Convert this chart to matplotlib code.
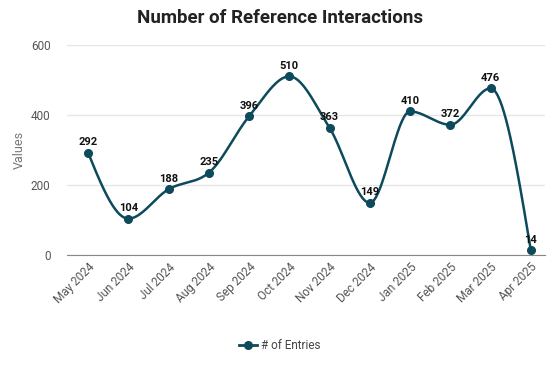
import numpy as np
import matplotlib.pyplot as plt

plt.rcParams['font.family'] = ['Roboto', 'DejaVu Sans']

months = ['May 2024', 'Jun 2024', 'Jul 2024', 'Aug 2024', 'Sep 2024', 'Oct 2024',
          'Nov 2024', 'Dec 2024', 'Jan 2025', 'Feb 2025', 'Mar 2025', 'Apr 2025']
entries = [292, 104, 188, 235, 396, 510, 363, 149, 410, 372, 476, 14]

color = '#0c4a5c'


def monotone_x(x, y, n=40):
    # monotone cubic curve through the points (like d3 curveMonotoneX)
    x = np.asarray(x, float)
    y = np.asarray(y, float)
    h = np.diff(x)
    s = np.diff(y) / h
    m = np.zeros(len(x))
    for i in range(1, len(x) - 1):
        p = (s[i - 1] * h[i] + s[i] * h[i - 1]) / (h[i - 1] + h[i])
        m[i] = (np.sign(s[i - 1]) + np.sign(s[i])) * min(abs(s[i - 1]), abs(s[i]), 0.5 * abs(p))
    m[0] = (3 * s[0] - m[1]) / 2
    m[-1] = (3 * s[-1] - m[-2]) / 2
    xs, ys = [], []
    for i in range(len(x) - 1):
        t = np.linspace(0, 1, n)
        h00 = 2 * t ** 3 - 3 * t ** 2 + 1
        h10 = t ** 3 - 2 * t ** 2 + t
        h01 = -2 * t ** 3 + 3 * t ** 2
        h11 = t ** 3 - t ** 2
        xs.append(x[i] + t * h[i])
        ys.append(h00 * y[i] + h10 * h[i] * m[i] + h01 * y[i + 1] + h11 * h[i] * m[i + 1])
    return np.concatenate(xs), np.concatenate(ys)


fig = plt.figure(figsize=(5.6, 3.74), dpi=100)
ax = fig.add_axes([0.12, 0.318, 0.853, 0.562])

xpos = np.arange(len(months))
sx, sy = monotone_x(xpos, entries)
ax.plot(sx, sy, color=color, lw=1.8, zorder=3)
ax.plot(xpos, entries, 'o', color=color, ms=5.5, zorder=4)

for x, v in zip(xpos, entries):
    ax.annotate(str(v), (x, v), xytext=(0, 4), textcoords='offset points',
                ha='center', va='bottom', fontsize=8, fontweight='bold', color='#111111')

ax.set_ylim(0, 600)
ax.set_yticks([0, 200, 400, 600])
ax.set_xlim(-0.52, 11.35)
ax.set_xticks(xpos)
ax.set_xticklabels(months, rotation=45, ha='right', rotation_mode='anchor')
ax.tick_params(axis='both', length=0, labelsize=8.5, labelcolor='#555555')
ax.tick_params(axis='y', pad=12)
ax.tick_params(axis='x', pad=4)
ax.grid(axis='y', color='#e6e6e6', lw=1)
ax.set_axisbelow(True)
for s in ['top', 'right', 'left']:
    ax.spines[s].set_visible(False)
ax.spines['bottom'].set_color('#888888')
ax.set_ylabel('Values', fontsize=9, color='#777777')

fig.suptitle('Number of Reference Interactions', x=0.5, y=0.975,
             fontsize=13.5, fontweight='bold', color='#222222')

handle, = ax.plot([], [], '-o', color=color, ms=5.5, lw=2)
fig.legend([handle], ['# of Entries'], loc='center', bbox_to_anchor=(0.5, 0.075),
           frameon=False, fontsize=8.5, labelcolor='#444444', handlelength=1.5,
           handletextpad=0.4)

fig.savefig('out.png', dpi=100)
